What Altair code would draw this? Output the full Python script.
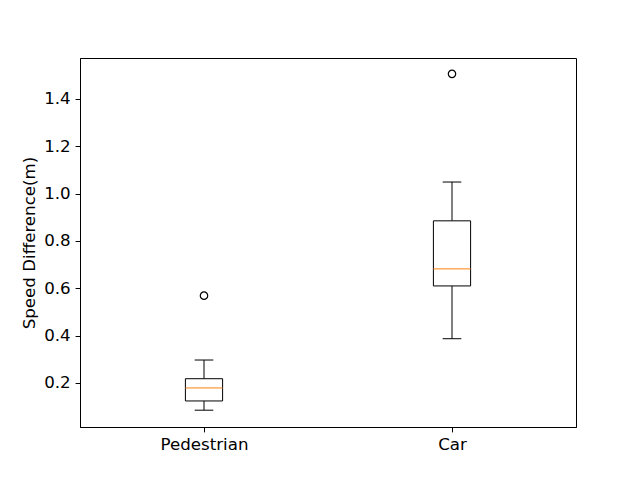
import altair as alt
import pandas as pd

categories = ["Pedestrian", "Car"]
positions = [1, 2]
whisker_low = [0.085, 0.387]
q1 = [0.124, 0.610]
median = [0.179, 0.682]
q3 = [0.218, 0.885]
whisker_high = [0.297, 1.049]
outlier_cat = ["Pedestrian", "Car"]
outlier_pos = [1, 2]
outlier_val = [0.569, 1.506]

stats = pd.DataFrame({
    "cat": categories, "pos": positions, "lo": whisker_low, "q1": q1,
    "med": median, "q3": q3, "hi": whisker_high,
})
outs = pd.DataFrame({"cat": outlier_cat, "pos": outlier_pos, "val": outlier_val})

xscale = alt.Scale(domain=[0.5, 2.5], nice=False, zero=False)
yscale = alt.Scale(domain=[0.014, 1.573], nice=False, zero=False)
font = "DejaVu Sans"

xaxis = alt.Axis(values=[1, 2], labelExpr="datum.value == 1 ? 'Pedestrian' : 'Car'",
                 grid=False, title=None, labelPadding=4.5, labelFlush=False)
yaxis = alt.Axis(values=[0.2, 0.4, 0.6, 0.8, 1.0, 1.2, 1.4], format=".1f", grid=False,
                 title="Speed Difference(m)", titlePadding=5, labelPadding=4.9)

base = alt.Chart(stats).transform_calculate(
    bl="datum.pos - 0.075", br="datum.pos + 0.075",
    cl="datum.pos - 0.0375", cr="datum.pos + 0.0375",
)

lower_whisker = base.mark_rule(color="black", strokeWidth=1).encode(
    x=alt.X("pos:Q", scale=xscale, axis=xaxis),
    y=alt.Y("lo:Q", scale=yscale, axis=yaxis), y2="q1:Q")
upper_whisker = base.mark_rule(color="black", strokeWidth=1).encode(
    x=alt.X("pos:Q", scale=xscale), y=alt.Y("q3:Q", scale=yscale), y2="hi:Q")
box = base.mark_rect(fill="white", stroke="black", strokeWidth=1).encode(
    x=alt.X("bl:Q", scale=xscale), x2="br:Q",
    y=alt.Y("q1:Q", scale=yscale), y2="q3:Q")
med_line = base.mark_rule(color="#ff7f0e", strokeWidth=1).encode(
    x=alt.X("bl:Q", scale=xscale), x2="br:Q", y=alt.Y("med:Q", scale=yscale))
cap_lo = base.mark_rule(color="black", strokeWidth=1).encode(
    x=alt.X("cl:Q", scale=xscale), x2="cr:Q", y=alt.Y("lo:Q", scale=yscale))
cap_hi = base.mark_rule(color="black", strokeWidth=1).encode(
    x=alt.X("cl:Q", scale=xscale), x2="cr:Q", y=alt.Y("hi:Q", scale=yscale))
pts = alt.Chart(outs).mark_point(shape="circle", filled=False, color="black",
                                  size=55, strokeWidth=1.2, opacity=1).encode(
    x=alt.X("pos:Q", scale=xscale), y=alt.Y("val:Q", scale=yscale))

chart = alt.layer(lower_whisker, upper_whisker, box, med_line, cap_lo, cap_hi, pts).properties(
    width=496, height=369,
    autosize=alt.AutoSizeParams(type="none"),
    padding={"left": 72, "top": 50, "right": 56, "bottom": 45},
    background="white",
).configure_view(stroke="black", strokeWidth=1).configure_axis(
    labelFontSize=16.67, labelFont=font, labelColor="black",
    titleFontSize=16.67, titleFont=font, titleFontWeight="normal", titleColor="black",
    tickColor="black", domainColor="black", tickSize=4.9, domainWidth=1, tickWidth=1,
)

chart.save("out.html", embed_options={"renderer": "svg", "actions": False})
